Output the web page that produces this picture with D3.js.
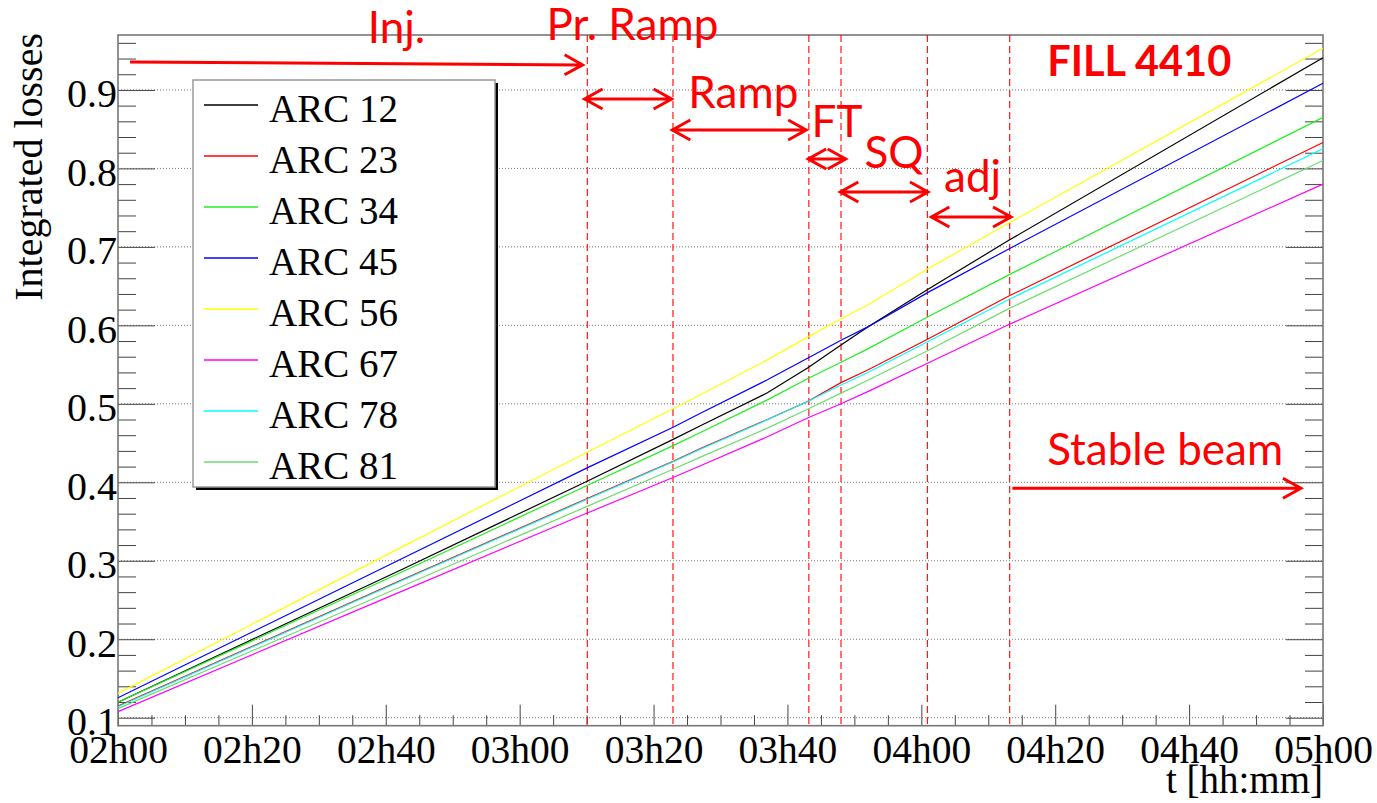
<!doctype html>
<html>
<head>
<meta charset="UTF-8">
<title>Integrated losses - Fill 4410</title>
<script src="https://cdn.jsdelivr.net/npm/d3@7"></script>
<style>
  body { margin: 0; background: #fff; }
</style>
</head>
<body>
<svg id="chart" width="1377" height="803"></svg>
<script>
// time in minutes after midnight
var times  = [120, 162, 190, 203, 207, 217, 223, 228, 232, 241, 253, 300];
var arc12 = [0.1196, 0.2873, 0.401, 0.455, 0.472, 0.514, 0.5455, 0.575, 0.598, 0.646, 0.708, 0.941];
var arc23 = [0.115, 0.274, 0.379, 0.427, 0.443, 0.480, 0.503, 0.527, 0.543, 0.5825, 0.637, 0.833];
var arc34 = [0.1196, 0.284, 0.3955, 0.447, 0.4634, 0.505, 0.532, 0.553, 0.570, 0.611, 0.664, 0.865];
var arc45 = [0.1255, 0.301, 0.418, 0.4705, 0.488, 0.5306, 0.558, 0.581, 0.598, 0.642, 0.697, 0.9085];
var arc56 = [0.131, 0.3158, 0.438, 0.494, 0.5115, 0.556, 0.585, 0.608, 0.626, 0.672, 0.730, 0.953];
var arc67 = [0.1077, 0.2597, 0.3605, 0.4065, 0.421, 0.458, 0.482, 0.500, 0.5155, 0.552, 0.6007, 0.780];
var arc78 = [0.114, 0.2732, 0.378, 0.4265, 0.442, 0.4796, 0.503, 0.524, 0.540, 0.5794, 0.6327, 0.825];
var arc81 = [0.1115, 0.266, 0.369, 0.417, 0.432, 0.469, 0.493, 0.5136, 0.530, 0.568, 0.621, 0.810];

var seriesNames  = ["ARC 12", "ARC 23", "ARC 34", "ARC 45", "ARC 56", "ARC 67", "ARC 78", "ARC 81"];
var seriesValues = [arc12, arc23, arc34, arc45, arc56, arc67, arc78, arc81];
var seriesColors = ["#000000", "#ff0000", "#22ee22", "#0000ff", "#ffff00", "#ff00ff", "#00ffff", "#6fdc6f"];

var xTickValues = [120, 140, 160, 180, 200, 220, 240, 260, 280, 300];
var xTickLabels = ["02h00", "02h20", "02h40", "03h00", "03h20", "03h40", "04h00", "04h20", "04h40", "05h00"];
var yTickValues = [0.1, 0.2, 0.3, 0.4, 0.5, 0.6, 0.7, 0.8, 0.9];
var yTickLabels = ["0.1", "0.2", "0.3", "0.4", "0.5", "0.6", "0.7", "0.8", "0.9"];

// machine phase boundaries (minutes)
var phaseTimes = [190.1, 202.9, 223.2, 228.0, 240.9, 253.2];
// annotation arrows: start time, end time, start value, end value, double headed
var arrowT0 = [121.8, 189.7, 202.8, 223.1, 227.9, 241.5, 253.6];
var arrowT1 = [189.4, 202.7, 222.8, 228.7, 241.0, 253.4, 296.7];
var arrowV0 = [0.9357, 0.8885, 0.849, 0.812, 0.770, 0.738, 0.3924];
var arrowV1 = [0.9319, 0.8885, 0.849, 0.812, 0.770, 0.738, 0.3924];
var arrowBoth = [false, true, true, true, true, true, false];
var noteTexts = ["Inj.", "Pr. Ramp", "Ramp", "FT", "SQ", "adj", "FILL 4410", "Stable beam"];
var noteT = [157.3, 184.0, 205.2, 223.6, 231.5, 243.4, 258.8, 258.8];
var noteV = [0.960, 0.9637, 0.877, 0.840, 0.800, 0.770, 0.918, 0.4216];

var svg = d3.select("#chart");
var pLeft = 118, pRight = 1323, pTop = 35, pBottom = 725.7;
var x = d3.scaleLinear().domain([120, 300]).range([pLeft, pRight]);
var y = d3.scaleLinear().domain([0.0898, 0.970]).range([pBottom, pTop]);

var serif = "'Liberation Serif', 'Times New Roman', serif";
var sans = "Lato, 'Open Sans', sans-serif";

// grid
svg.append("g").selectAll("line").data(yTickValues).enter().append("line")
    .attr("x1", pLeft).attr("x2", pRight)
    .attr("y1", function(d) { return y(d); }).attr("y2", function(d) { return y(d); })
    .attr("stroke", "#777").attr("stroke-width", 1).attr("stroke-dasharray", "1,2");

// x axis
var xMinor = d3.range(120, 301, 5).filter(function(d) { return d % 20 !== 0; });
svg.append("g").attr("transform", "translate(0," + pBottom + ")")
    .call(d3.axisBottom(x).tickValues(xMinor).tickSizeInner(-10.5).tickSizeOuter(0).tickFormat(""));
var gx = svg.append("g").attr("transform", "translate(0," + pBottom + ")")
    .call(d3.axisBottom(x).tickValues(xTickValues).tickSizeInner(-21).tickSizeOuter(0)
        .tickFormat(function(d, i) { return xTickLabels[i]; }));
gx.selectAll("text").attr("y", 37.3).attr("dy", 0)
    .attr("font-family", serif).attr("font-size", 39.5).attr("fill", "#000");

// y axes
var yMinor = d3.range(0.1, 0.97, 0.02).filter(function(d) { return Math.abs(d * 10 - Math.round(d * 10)) > 0.01; });
svg.append("g").attr("transform", "translate(" + pLeft + ",0)")
    .call(d3.axisLeft(y).tickValues(yMinor).tickSizeInner(-18).tickSizeOuter(0).tickFormat(""));
var gy = svg.append("g").attr("transform", "translate(" + pLeft + ",0)")
    .call(d3.axisLeft(y).tickValues(yTickValues).tickSizeInner(-37).tickSizeOuter(0).tickPadding(1)
        .tickFormat(function(d, i) { return yTickLabels[i]; }));
gy.selectAll("text").attr("x", -1).attr("dy", "0.42em")
    .attr("font-family", serif).attr("font-size", 40).attr("fill", "#000");
svg.append("g").attr("transform", "translate(" + pRight + ",0)")
    .call(d3.axisRight(y).tickValues(yMinor).tickSizeInner(-18).tickSizeOuter(0).tickFormat(""));
svg.append("g").attr("transform", "translate(" + pRight + ",0)")
    .call(d3.axisRight(y).tickValues(yTickValues).tickSizeInner(-37).tickSizeOuter(0).tickFormat(""));
svg.selectAll(".domain").remove();
svg.selectAll(".tick line").attr("stroke", "#444");

// frame
svg.append("rect").attr("x", pLeft).attr("y", pTop)
    .attr("width", pRight - pLeft).attr("height", pBottom - pTop)
    .attr("fill", "none").attr("stroke", "#777").attr("stroke-width", 1.6);

// phase markers
svg.append("g").selectAll("line").data(phaseTimes).enter().append("line")
    .attr("x1", function(d) { return x(d); }).attr("x2", function(d) { return x(d); })
    .attr("y1", pTop).attr("y2", pBottom)
    .attr("stroke", "#ff0000").attr("stroke-width", 1.1).attr("stroke-dasharray", "7,4");

// data lines
var line = d3.line()
    .x(function(d, i) { return x(times[i]); })
    .y(function(d) { return y(d); });
svg.append("g").selectAll("path").data(seriesValues).enter().append("path")
    .attr("d", line)
    .attr("fill", "none")
    .attr("stroke", function(d, i) { return seriesColors[i]; })
    .attr("stroke-width", 1.2);

// legend
var lg = svg.append("g");
lg.append("rect").attr("x", 196).attr("y", 83).attr("width", 302).attr("height", 407).attr("fill", "#000");
lg.append("rect").attr("x", 193).attr("y", 80).attr("width", 302).attr("height", 407)
    .attr("fill", "#fff").attr("stroke", "#999").attr("stroke-width", 1.5);
var rows = lg.selectAll("g.row").data(seriesNames).enter().append("g")
    .attr("transform", function(d, i) { return "translate(0," + (105 + i * 51) + ")"; });
rows.append("line").attr("x1", 204).attr("x2", 258).attr("y1", 0).attr("y2", 0)
    .attr("stroke", function(d, i) { return seriesColors[i]; }).attr("stroke-width", 1.5);
rows.append("text").attr("x", 269).attr("y", 17).text(function(d) { return d; })
    .attr("font-family", serif).attr("font-size", 39).attr("fill", "#000");

// axis titles
svg.append("text").attr("x", pRight).attr("y", 793).attr("text-anchor", "end")
    .attr("font-family", serif).attr("font-size", 39).text("t [hh:mm]");
svg.append("text").attr("transform", "translate(42,33) rotate(-90)").attr("text-anchor", "end")
    .attr("font-family", serif).attr("font-size", 40).text("Integrated losses");

// annotations
function head(px, py, ux, uy) {
    var nx = -uy, ny = ux;
    return "M" + (px - 18 * ux + 10 * nx) + "," + (py - 18 * uy + 10 * ny) +
        "L" + px + "," + py +
        "L" + (px - 18 * ux - 10 * nx) + "," + (py - 18 * uy - 10 * ny);
}
var ag = svg.append("g");
arrowT0.forEach(function(t0, i) {
    var x0 = x(t0), y0 = y(arrowV0[i]), x1 = x(arrowT1[i]), y1 = y(arrowV1[i]);
    var len = Math.sqrt((x1 - x0) * (x1 - x0) + (y1 - y0) * (y1 - y0));
    var ux = (x1 - x0) / len, uy = (y1 - y0) / len;
    var d = "M" + x0 + "," + y0 + "L" + x1 + "," + y1 + head(x1, y1, ux, uy);
    if (arrowBoth[i]) d += head(x0, y0, -ux, -uy);
    ag.append("path").attr("d", d).attr("fill", "none")
        .attr("stroke", "#ff0000").attr("stroke-width", 3);
});
ag.selectAll("text").data(noteTexts).enter().append("text")
    .attr("x", function(d, i) { return x(noteT[i]); })
    .attr("y", function(d, i) { return y(noteV[i]); })
    .attr("font-family", sans)
    .attr("font-size", function(d) { return d === "FILL 4410" ? 41.5 : 44; })
    .attr("font-weight", function(d) { return d === "FILL 4410" ? "bold" : "normal"; })
    .attr("fill", "#ff0000")
    .text(function(d) { return d; });
</script>
</body>
</html>
